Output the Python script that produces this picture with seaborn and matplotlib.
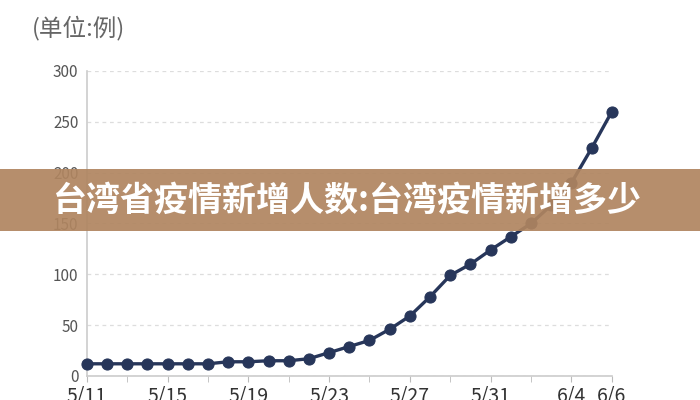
import matplotlib
matplotlib.use('Agg')
import matplotlib.pyplot as plt
from matplotlib.patches import Rectangle
import seaborn as sns
import pandas as pd

# daily values (5/11 - 6/6)
dates = pd.date_range('2021-05-11', '2021-06-06', freq='D')
cases = [12, 12, 12, 12, 12, 12, 12, 14, 14, 15, 15, 17, 23, 29,
         35, 46, 59, 78, 99, 110, 124, 137, 150, 168, 190, 224, 260]
tick_labels = ['5/11', '5/15', '5/19', '5/23', '5/27', '5/31', '6/4', '6/6']
unit_label = '(单位:例)'
banner_text = '台湾省疫情新增人数:台湾疫情新增多少'

df = pd.DataFrame({'date': dates, 'cases': cases})

sns.set_style('white')
plt.rcParams['font.family'] = ['Noto Sans CJK SC', 'DejaVu Sans']

fig = plt.figure(figsize=(7, 4), dpi=100)
ax = fig.add_axes([0.124, 0.06, 0.75, 0.7625])

sns.lineplot(data=df, x='date', y='cases', ax=ax, color='#27365a',
             linewidth=2.4, marker='o', markersize=8,
             markeredgecolor='#27365a', clip_on=False, zorder=3)

ax.set_xlim(dates[0], dates[-1])
ax.set_ylim(0, 300)
ax.set_yticks([0, 50, 100, 150, 200, 250, 300])
ax.yaxis.grid(True, linestyle=(0, (3, 3)), color='#dddddd', linewidth=0.9)
ax.set_xlabel('')
ax.set_ylabel('')

# minor ticks every 2 days, labels only at the marked days
ax.set_xticks(dates[::2], minor=True)
label_days = [pd.Timestamp('2021-' + t.replace('/', '-')) for t in tick_labels]
ax.set_xticks(label_days)
ax.set_xticklabels(tick_labels)
ax.tick_params(axis='x', which='both', length=4, color='#bbbbbb',
               labelsize=14, labelcolor='#333333', pad=3, bottom=True)
ax.tick_params(axis='y', length=0, labelsize=11, labelcolor='#555555', pad=6)

for side in ['top', 'right']:
    ax.spines[side].set_visible(False)
for side in ['left', 'bottom']:
    ax.spines[side].set_color('#cccccc')
    ax.spines[side].set_linewidth(1.2)

fig.text(0.045, 0.93, unit_label, fontsize=17, color='#666666', va='center')

# overlay banner
fig.add_artist(Rectangle((0, 0.4225), 1, 0.155, transform=fig.transFigure,
                         facecolor='#b08560', alpha=0.92, edgecolor='none',
                         zorder=10))
fig.text(0.497, 0.50, banner_text, fontsize=24.5, fontweight='heavy',
         color='white', ha='center', va='center', zorder=11)

plt.savefig('out.png', dpi=100)
